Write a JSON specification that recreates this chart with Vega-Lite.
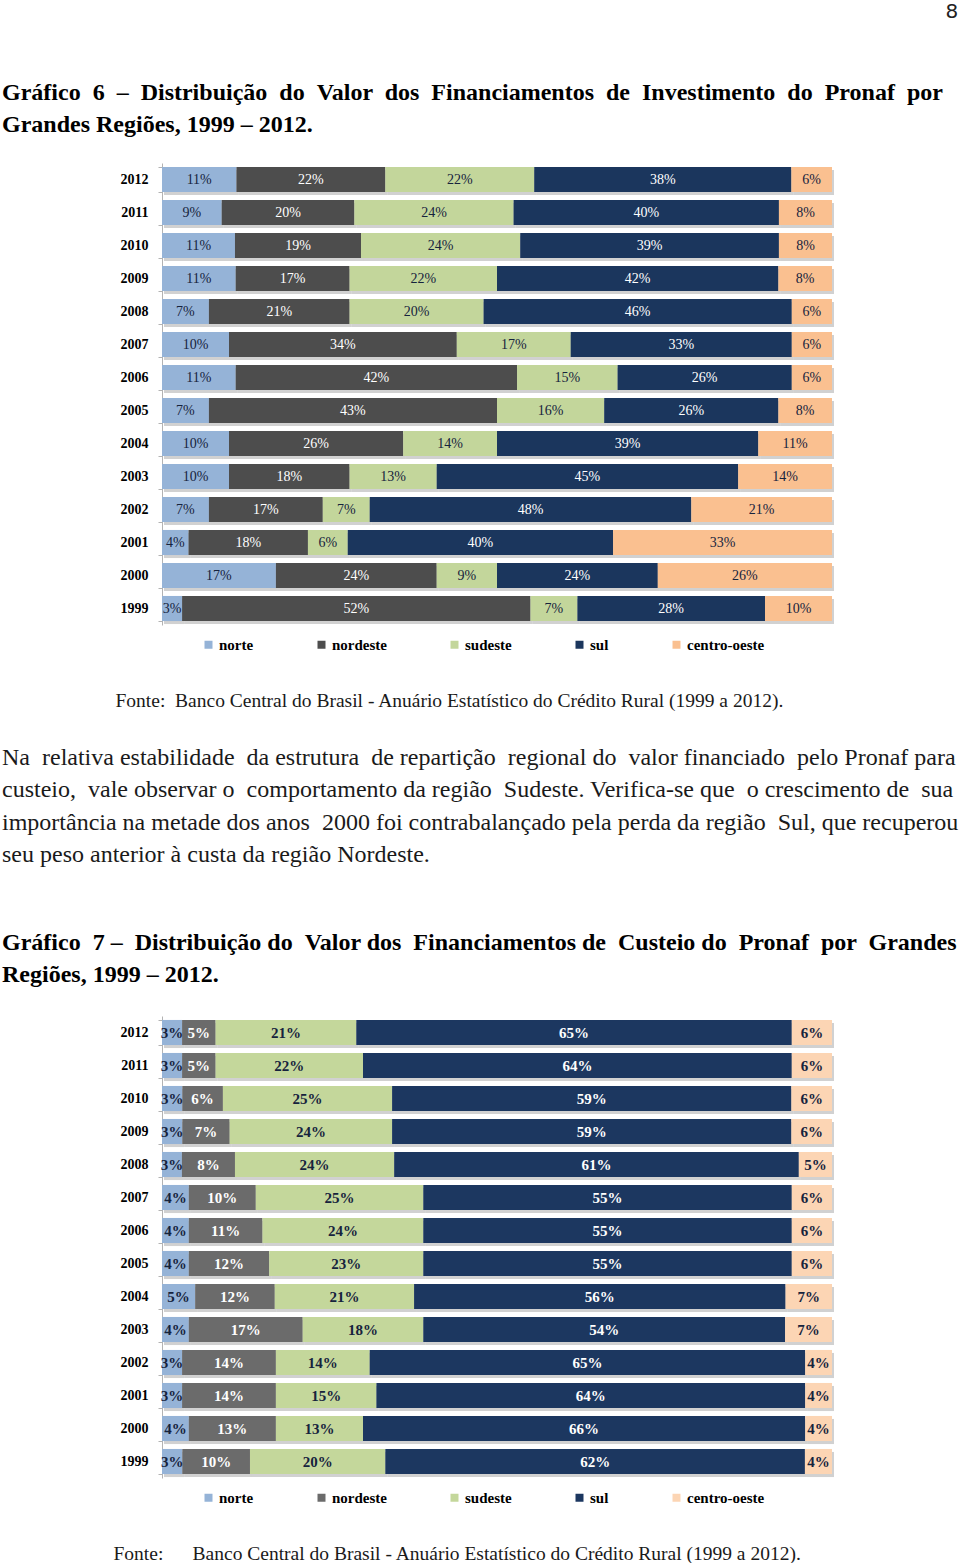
{
  "$schema": "https://vega.github.io/schema/vega-lite/v6.json",
  "background": "white",
  "padding": {"left": 2, "top": 1, "right": 0, "bottom": 0},
  "config": {"view": {"stroke": null}},
  "title": {"text": "8", "font": "DejaVu Sans", "fontSize": 20, "fontWeight": "normal", "color": "#222222", "anchor": "end", "frame": "bounds", "offset": 59, "dx": 0},
  "datasets": {
    "g6": [
      {"year": 2012, "region": "norte", "k": 1, "pct": 0.11}, {"year": 2012, "region": "nordeste", "k": 2, "pct": 0.22}, {"year": 2012, "region": "sudeste", "k": 3, "pct": 0.22}, {"year": 2012, "region": "sul", "k": 4, "pct": 0.38}, {"year": 2012, "region": "centro-oeste", "k": 5, "pct": 0.06},
      {"year": 2011, "region": "norte", "k": 1, "pct": 0.09}, {"year": 2011, "region": "nordeste", "k": 2, "pct": 0.20}, {"year": 2011, "region": "sudeste", "k": 3, "pct": 0.24}, {"year": 2011, "region": "sul", "k": 4, "pct": 0.40}, {"year": 2011, "region": "centro-oeste", "k": 5, "pct": 0.08},
      {"year": 2010, "region": "norte", "k": 1, "pct": 0.11}, {"year": 2010, "region": "nordeste", "k": 2, "pct": 0.19}, {"year": 2010, "region": "sudeste", "k": 3, "pct": 0.24}, {"year": 2010, "region": "sul", "k": 4, "pct": 0.39}, {"year": 2010, "region": "centro-oeste", "k": 5, "pct": 0.08},
      {"year": 2009, "region": "norte", "k": 1, "pct": 0.11}, {"year": 2009, "region": "nordeste", "k": 2, "pct": 0.17}, {"year": 2009, "region": "sudeste", "k": 3, "pct": 0.22}, {"year": 2009, "region": "sul", "k": 4, "pct": 0.42}, {"year": 2009, "region": "centro-oeste", "k": 5, "pct": 0.08},
      {"year": 2008, "region": "norte", "k": 1, "pct": 0.07}, {"year": 2008, "region": "nordeste", "k": 2, "pct": 0.21}, {"year": 2008, "region": "sudeste", "k": 3, "pct": 0.20}, {"year": 2008, "region": "sul", "k": 4, "pct": 0.46}, {"year": 2008, "region": "centro-oeste", "k": 5, "pct": 0.06},
      {"year": 2007, "region": "norte", "k": 1, "pct": 0.10}, {"year": 2007, "region": "nordeste", "k": 2, "pct": 0.34}, {"year": 2007, "region": "sudeste", "k": 3, "pct": 0.17}, {"year": 2007, "region": "sul", "k": 4, "pct": 0.33}, {"year": 2007, "region": "centro-oeste", "k": 5, "pct": 0.06},
      {"year": 2006, "region": "norte", "k": 1, "pct": 0.11}, {"year": 2006, "region": "nordeste", "k": 2, "pct": 0.42}, {"year": 2006, "region": "sudeste", "k": 3, "pct": 0.15}, {"year": 2006, "region": "sul", "k": 4, "pct": 0.26}, {"year": 2006, "region": "centro-oeste", "k": 5, "pct": 0.06},
      {"year": 2005, "region": "norte", "k": 1, "pct": 0.07}, {"year": 2005, "region": "nordeste", "k": 2, "pct": 0.43}, {"year": 2005, "region": "sudeste", "k": 3, "pct": 0.16}, {"year": 2005, "region": "sul", "k": 4, "pct": 0.26}, {"year": 2005, "region": "centro-oeste", "k": 5, "pct": 0.08},
      {"year": 2004, "region": "norte", "k": 1, "pct": 0.10}, {"year": 2004, "region": "nordeste", "k": 2, "pct": 0.26}, {"year": 2004, "region": "sudeste", "k": 3, "pct": 0.14}, {"year": 2004, "region": "sul", "k": 4, "pct": 0.39}, {"year": 2004, "region": "centro-oeste", "k": 5, "pct": 0.11},
      {"year": 2003, "region": "norte", "k": 1, "pct": 0.10}, {"year": 2003, "region": "nordeste", "k": 2, "pct": 0.18}, {"year": 2003, "region": "sudeste", "k": 3, "pct": 0.13}, {"year": 2003, "region": "sul", "k": 4, "pct": 0.45}, {"year": 2003, "region": "centro-oeste", "k": 5, "pct": 0.14},
      {"year": 2002, "region": "norte", "k": 1, "pct": 0.07}, {"year": 2002, "region": "nordeste", "k": 2, "pct": 0.17}, {"year": 2002, "region": "sudeste", "k": 3, "pct": 0.07}, {"year": 2002, "region": "sul", "k": 4, "pct": 0.48}, {"year": 2002, "region": "centro-oeste", "k": 5, "pct": 0.21},
      {"year": 2001, "region": "norte", "k": 1, "pct": 0.04}, {"year": 2001, "region": "nordeste", "k": 2, "pct": 0.18}, {"year": 2001, "region": "sudeste", "k": 3, "pct": 0.06}, {"year": 2001, "region": "sul", "k": 4, "pct": 0.40}, {"year": 2001, "region": "centro-oeste", "k": 5, "pct": 0.33},
      {"year": 2000, "region": "norte", "k": 1, "pct": 0.17}, {"year": 2000, "region": "nordeste", "k": 2, "pct": 0.24}, {"year": 2000, "region": "sudeste", "k": 3, "pct": 0.09}, {"year": 2000, "region": "sul", "k": 4, "pct": 0.24}, {"year": 2000, "region": "centro-oeste", "k": 5, "pct": 0.26},
      {"year": 1999, "region": "norte", "k": 1, "pct": 0.03}, {"year": 1999, "region": "nordeste", "k": 2, "pct": 0.52}, {"year": 1999, "region": "sudeste", "k": 3, "pct": 0.07}, {"year": 1999, "region": "sul", "k": 4, "pct": 0.28}, {"year": 1999, "region": "centro-oeste", "k": 5, "pct": 0.10}
    ],
    "g7": [
      {"year": 2012, "region": "norte", "k": 1, "pct": 0.03}, {"year": 2012, "region": "nordeste", "k": 2, "pct": 0.05}, {"year": 2012, "region": "sudeste", "k": 3, "pct": 0.21}, {"year": 2012, "region": "sul", "k": 4, "pct": 0.65}, {"year": 2012, "region": "centro-oeste", "k": 5, "pct": 0.06},
      {"year": 2011, "region": "norte", "k": 1, "pct": 0.03}, {"year": 2011, "region": "nordeste", "k": 2, "pct": 0.05}, {"year": 2011, "region": "sudeste", "k": 3, "pct": 0.22}, {"year": 2011, "region": "sul", "k": 4, "pct": 0.64}, {"year": 2011, "region": "centro-oeste", "k": 5, "pct": 0.06},
      {"year": 2010, "region": "norte", "k": 1, "pct": 0.03}, {"year": 2010, "region": "nordeste", "k": 2, "pct": 0.06}, {"year": 2010, "region": "sudeste", "k": 3, "pct": 0.25}, {"year": 2010, "region": "sul", "k": 4, "pct": 0.59}, {"year": 2010, "region": "centro-oeste", "k": 5, "pct": 0.06},
      {"year": 2009, "region": "norte", "k": 1, "pct": 0.03}, {"year": 2009, "region": "nordeste", "k": 2, "pct": 0.07}, {"year": 2009, "region": "sudeste", "k": 3, "pct": 0.24}, {"year": 2009, "region": "sul", "k": 4, "pct": 0.59}, {"year": 2009, "region": "centro-oeste", "k": 5, "pct": 0.06},
      {"year": 2008, "region": "norte", "k": 1, "pct": 0.03}, {"year": 2008, "region": "nordeste", "k": 2, "pct": 0.08}, {"year": 2008, "region": "sudeste", "k": 3, "pct": 0.24}, {"year": 2008, "region": "sul", "k": 4, "pct": 0.61}, {"year": 2008, "region": "centro-oeste", "k": 5, "pct": 0.05},
      {"year": 2007, "region": "norte", "k": 1, "pct": 0.04}, {"year": 2007, "region": "nordeste", "k": 2, "pct": 0.10}, {"year": 2007, "region": "sudeste", "k": 3, "pct": 0.25}, {"year": 2007, "region": "sul", "k": 4, "pct": 0.55}, {"year": 2007, "region": "centro-oeste", "k": 5, "pct": 0.06},
      {"year": 2006, "region": "norte", "k": 1, "pct": 0.04}, {"year": 2006, "region": "nordeste", "k": 2, "pct": 0.11}, {"year": 2006, "region": "sudeste", "k": 3, "pct": 0.24}, {"year": 2006, "region": "sul", "k": 4, "pct": 0.55}, {"year": 2006, "region": "centro-oeste", "k": 5, "pct": 0.06},
      {"year": 2005, "region": "norte", "k": 1, "pct": 0.04}, {"year": 2005, "region": "nordeste", "k": 2, "pct": 0.12}, {"year": 2005, "region": "sudeste", "k": 3, "pct": 0.23}, {"year": 2005, "region": "sul", "k": 4, "pct": 0.55}, {"year": 2005, "region": "centro-oeste", "k": 5, "pct": 0.06},
      {"year": 2004, "region": "norte", "k": 1, "pct": 0.05}, {"year": 2004, "region": "nordeste", "k": 2, "pct": 0.12}, {"year": 2004, "region": "sudeste", "k": 3, "pct": 0.21}, {"year": 2004, "region": "sul", "k": 4, "pct": 0.56}, {"year": 2004, "region": "centro-oeste", "k": 5, "pct": 0.07},
      {"year": 2003, "region": "norte", "k": 1, "pct": 0.04}, {"year": 2003, "region": "nordeste", "k": 2, "pct": 0.17}, {"year": 2003, "region": "sudeste", "k": 3, "pct": 0.18}, {"year": 2003, "region": "sul", "k": 4, "pct": 0.54}, {"year": 2003, "region": "centro-oeste", "k": 5, "pct": 0.07},
      {"year": 2002, "region": "norte", "k": 1, "pct": 0.03}, {"year": 2002, "region": "nordeste", "k": 2, "pct": 0.14}, {"year": 2002, "region": "sudeste", "k": 3, "pct": 0.14}, {"year": 2002, "region": "sul", "k": 4, "pct": 0.65}, {"year": 2002, "region": "centro-oeste", "k": 5, "pct": 0.04},
      {"year": 2001, "region": "norte", "k": 1, "pct": 0.03}, {"year": 2001, "region": "nordeste", "k": 2, "pct": 0.14}, {"year": 2001, "region": "sudeste", "k": 3, "pct": 0.15}, {"year": 2001, "region": "sul", "k": 4, "pct": 0.64}, {"year": 2001, "region": "centro-oeste", "k": 5, "pct": 0.04},
      {"year": 2000, "region": "norte", "k": 1, "pct": 0.04}, {"year": 2000, "region": "nordeste", "k": 2, "pct": 0.13}, {"year": 2000, "region": "sudeste", "k": 3, "pct": 0.13}, {"year": 2000, "region": "sul", "k": 4, "pct": 0.66}, {"year": 2000, "region": "centro-oeste", "k": 5, "pct": 0.04},
      {"year": 1999, "region": "norte", "k": 1, "pct": 0.03}, {"year": 1999, "region": "nordeste", "k": 2, "pct": 0.10}, {"year": 1999, "region": "sudeste", "k": 3, "pct": 0.20}, {"year": 1999, "region": "sul", "k": 4, "pct": 0.62}, {"year": 1999, "region": "centro-oeste", "k": 5, "pct": 0.04}
    ]
  },
  "bounds": "flush",
  "spacing": 391,
  "resolve": {"scale": {"color": "independent"}, "legend": {"color": "independent"}},
  "vconcat": [
    {
      "width": 670,
      "height": 462,
      "data": {"name": "g6"},
      "title": {
        "text": ["Gráfico \u00a06 \u00a0– \u00a0Distribuição \u00a0do \u00a0Valor \u00a0dos \u00a0Financiamentos \u00a0de \u00a0Investimento \u00a0do \u00a0Pronaf \u00a0por", "Grandes Regiões, 1999 – 2012."],
        "font": "Liberation Serif", "fontSize": 24, "fontWeight": "bold", "color": "black",
        "lineHeight": 32, "anchor": "start", "frame": "group", "dx": -160, "offset": 19.5
      },
      "encoding": {
        "y": {
          "field": "year", "type": "ordinal", "sort": "descending",
          "scale": {"paddingInner": 0.24, "paddingOuter": 0.12},
          "axis": {"title": null, "labelFont": "Liberation Serif", "labelFontSize": 14, "labelFontWeight": "bold", "labelColor": "black", "labelPadding": 10, "tickSize": 4, "tickBand": "extent", "tickColor": "#b3b3b3", "domainColor": "#b3b3b3"}
        },
        "x": {
          "field": "pct", "type": "quantitative", "stack": "normalize",
          "scale": {"domain": [0, 1], "nice": false},
          "axis": {"labels": false, "ticks": false, "domain": false, "grid": false,
            "title": "Fonte:\u00a0\u00a0Banco Central do Brasil - Anuário Estatístico do Crédito Rural (1999 a 2012).",
            "titleFont": "Liberation Serif", "titleFontSize": 19.5, "titleFontWeight": "normal", "titleColor": "#1a1a1a",
            "titleAnchor": "start", "titleAlign": "left", "titleBaseline": "middle", "titleX": -47, "titleY": 75}
        },
        "order": {"field": "k", "type": "quantitative"}
      },
      "layer": [
        {"mark": {"type": "bar", "color": "#9a9a9a", "opacity": 0.45, "xOffset": 2, "yOffset": 3}, "encoding": {"detail": {"field": "region"}}},
        {
          "mark": {"type": "bar"},
          "encoding": {
            "color": {
              "field": "region", "type": "nominal", "sort": ["norte", "nordeste", "sudeste", "sul", "centro-oeste"],
              "scale": {"domain": ["norte", "nordeste", "sudeste", "sul", "centro-oeste"], "range": ["#95b3d7", "#4d4d4d", "#c3d69b", "#1b365d", "#fac090"]},
              "legend": {"orient": "none", "legendX": 39, "legendY": 474, "direction": "horizontal", "columns": 5, "title": null,
                "symbolType": "square", "symbolSize": 64, "symbolStrokeWidth": 0, "labelOffset": 3, "columnPadding": 60,
                "labelFont": "Liberation Serif", "labelFontSize": 15, "labelFontWeight": "bold", "labelColor": "black"}
            }
          }
        },
        {
          "mark": {"type": "text", "font": "Liberation Serif", "fontSize": 14, "baseline": "middle"},
          "encoding": {
            "x": {"field": "pct", "type": "quantitative", "stack": "normalize", "bandPosition": 0.5,
              "axis": {"labels": false, "ticks": false, "domain": false, "grid": false,
                "title": "Fonte:\u00a0\u00a0Banco Central do Brasil - Anuário Estatístico do Crédito Rural (1999 a 2012).",
                "titleFont": "Liberation Serif", "titleFontSize": 19.5, "titleFontWeight": "normal", "titleColor": "#1a1a1a",
                "titleAnchor": "start", "titleAlign": "left", "titleBaseline": "middle", "titleX": -47, "titleY": 75}},
            "text": {"field": "pct", "format": ".0%"},
            "color": {"field": "region", "type": "nominal", "legend": null,
              "scale": {"domain": ["norte", "nordeste", "sudeste", "sul", "centro-oeste"], "range": ["#16233d", "#ffffff", "#16233d", "#ffffff", "#16233d"]}}
          }
        }
      ],
      "resolve": {"scale": {"color": "independent"}}
    },
    {
      "width": 670,
      "height": 462,
      "data": {"name": "g7"},
      "title": {
        "text": ["Na \u00a0relativa estabilidade \u00a0da estrutura \u00a0de repartição \u00a0regional do \u00a0valor financiado \u00a0pelo Pronaf para", "custeio, \u00a0vale observar o \u00a0comportamento da região \u00a0Sudeste. Verifica-se que \u00a0o crescimento de \u00a0sua", "importância na metade dos anos \u00a02000 foi contrabalançado pela perda da região \u00a0Sul, que recuperou", "seu peso anterior à custa da região Nordeste."],
        "subtitle": ["Gráfico \u00a07 – \u00a0Distribuição do \u00a0Valor dos \u00a0Financiamentos de \u00a0Custeio do \u00a0Pronaf \u00a0por \u00a0Grandes", "Regiões, 1999 – 2012."],
        "font": "Liberation Serif", "fontSize": 24, "fontWeight": "normal", "color": "#1a1a1a", "lineHeight": 32.4,
        "subtitleFont": "Liberation Serif", "subtitleFontSize": 24, "subtitleFontWeight": "bold", "subtitleColor": "black", "subtitleLineHeight": 32,
        "subtitlePadding": 64, "anchor": "start", "frame": "group", "dx": -160, "offset": 22
      },
      "encoding": {
        "y": {
          "field": "year", "type": "ordinal", "sort": "descending",
          "scale": {"paddingInner": 0.24, "paddingOuter": 0.12},
          "axis": {"title": null, "labelFont": "Liberation Serif", "labelFontSize": 14, "labelFontWeight": "bold", "labelColor": "black", "labelPadding": 10, "tickSize": 4, "tickBand": "extent", "tickColor": "#b3b3b3", "domainColor": "#b3b3b3"}
        },
        "x": {
          "field": "pct", "type": "quantitative", "stack": "normalize",
          "scale": {"domain": [0, 1], "nice": false},
          "axis": {"labels": false, "ticks": false, "domain": false, "grid": false,
            "title": "Fonte:\u00a0\u00a0\u00a0\u00a0\u00a0\u00a0Banco Central do Brasil - Anuário Estatístico do Crédito Rural (1999 a 2012).",
            "titleFont": "Liberation Serif", "titleFontSize": 19.5, "titleFontWeight": "normal", "titleColor": "#1a1a1a",
            "titleAnchor": "start", "titleAlign": "left", "titleBaseline": "middle", "titleX": -49, "titleY": 75}
        },
        "order": {"field": "k", "type": "quantitative"}
      },
      "layer": [
        {"mark": {"type": "bar", "color": "#9a9a9a", "opacity": 0.45, "xOffset": 2, "yOffset": 3}, "encoding": {"detail": {"field": "region"}}},
        {
          "mark": {"type": "bar"},
          "encoding": {
            "color": {
              "field": "region", "type": "nominal", "sort": ["norte", "nordeste", "sudeste", "sul", "centro-oeste"],
              "scale": {"domain": ["norte", "nordeste", "sudeste", "sul", "centro-oeste"], "range": ["#95b3d7", "#6b6b6b", "#c4d79b", "#1c3760", "#fcd5b4"]},
              "legend": {"orient": "none", "legendX": 39, "legendY": 474, "direction": "horizontal", "columns": 5, "title": null,
                "symbolType": "square", "symbolSize": 64, "symbolStrokeWidth": 0, "labelOffset": 3, "columnPadding": 60,
                "labelFont": "Liberation Serif", "labelFontSize": 15, "labelFontWeight": "bold", "labelColor": "black"}
            }
          }
        },
        {
          "mark": {"type": "text", "font": "Liberation Serif", "fontSize": 15, "fontWeight": "bold", "baseline": "middle"},
          "encoding": {
            "x": {"field": "pct", "type": "quantitative", "stack": "normalize", "bandPosition": 0.5,
              "axis": {"labels": false, "ticks": false, "domain": false, "grid": false,
                "title": "Fonte:\u00a0\u00a0\u00a0\u00a0\u00a0\u00a0Banco Central do Brasil - Anuário Estatístico do Crédito Rural (1999 a 2012).",
                "titleFont": "Liberation Serif", "titleFontSize": 19.5, "titleFontWeight": "normal", "titleColor": "#1a1a1a",
                "titleAnchor": "start", "titleAlign": "left", "titleBaseline": "middle", "titleX": -49, "titleY": 75}},
            "text": {"field": "pct", "format": ".0%"},
            "color": {"field": "region", "type": "nominal", "legend": null,
              "scale": {"domain": ["norte", "nordeste", "sudeste", "sul", "centro-oeste"], "range": ["#16233d", "#ffffff", "#16233d", "#ffffff", "#16233d"]}}
          }
        }
      ],
      "resolve": {"scale": {"color": "independent"}}
    }
  ]
}
